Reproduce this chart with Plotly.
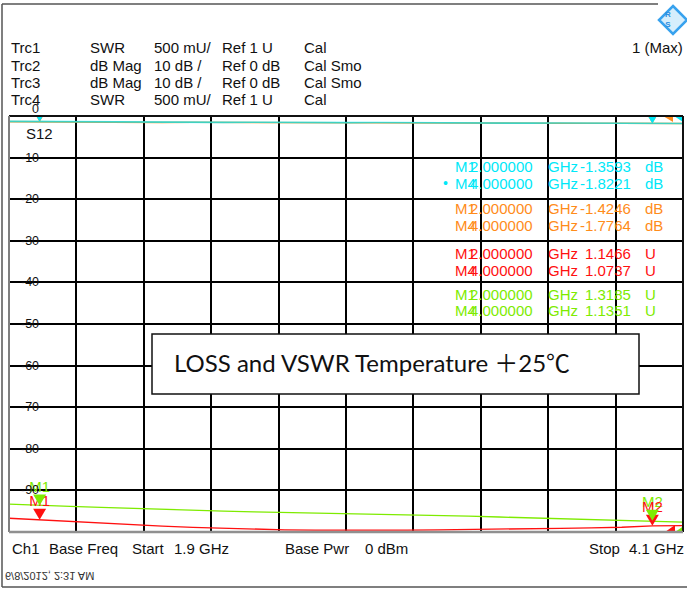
import plotly.graph_objects as go

# ---------------- data ----------------
freq_ghz = [1.9, 2.0, 2.1, 2.2, 2.3, 2.4, 2.5, 2.6, 2.7, 2.8, 2.9, 3.0,
            3.1, 3.2, 3.3, 3.4, 3.5, 3.6, 3.7, 3.8, 3.9, 4.0, 4.1]

# Trc2 / Trc3 : dB Mag (S12 loss)
trc_cyan_db = [-1.30, -1.3593, -1.42, -1.40, -1.44, -1.50, -1.47, -1.53, -1.50, -1.57, -1.55, -1.60,
               -1.58, -1.64, -1.62, -1.68, -1.66, -1.72, -1.70, -1.76, -1.75, -1.8221, -1.80]
trc_orange_db = [-1.36, -1.4246, -1.46, -1.45, -1.49, -1.53, -1.51, -1.56, -1.55, -1.60, -1.58, -1.63,
                 -1.62, -1.66, -1.65, -1.69, -1.68, -1.73, -1.72, -1.76, -1.76, -1.7764, -1.79]

# Trc1 / Trc4 : SWR
trc_red_swr = [1.165, 1.1466, 1.122, 1.102, 1.085, 1.070, 1.056, 1.044, 1.034, 1.026, 1.022, 1.020,
               1.021, 1.023, 1.026, 1.029, 1.033, 1.038, 1.044, 1.050, 1.057, 1.0737, 1.076]
trc_green_swr = [1.335, 1.3185, 1.308, 1.295, 1.282, 1.272, 1.262, 1.252, 1.243, 1.236, 1.229, 1.224,
                 1.218, 1.210, 1.200, 1.190, 1.180, 1.170, 1.160, 1.150, 1.142, 1.1351, 1.118]

marker_freq = [2.0, 4.0]
marker_names = ["M1", "M2"]
m_cyan = [-1.3593, -1.8221]
m_orange = [-1.4246, -1.7764]
m_red = [1.1466, 1.0737]
m_green = [1.3185, 1.1351]

header_rows = [
    ["Trc1", "SWR", "500 mU/", "Ref 1 U", "Cal"],
    ["Trc2", "dB Mag", "10 dB /", "Ref 0 dB", "Cal Smo"],
    ["Trc3", "dB Mag", "10 dB /", "Ref 0 dB", "Cal Smo"],
    ["Trc4", "SWR", "500 mU/", "Ref 1 U", "Cal"],
]
y_tick_vals = [0, -10, -20, -30, -40, -50, -60, -70, -80, -90]
y_tick_text = ["0", "-10", "-20", "-30", "-40", "-50", "-60", "-70", "-80", "-90"]

readout_rows = [
    ("M1", "2.000000", "GHz", "-1.3593", "dB", "cyan"),
    ("M4", "4.000000", "GHz", "-1.8221", "dB", "cyan"),
    ("M1", "2.000000", "GHz", "-1.4246", "dB", "orange"),
    ("M4", "4.000000", "GHz", "-1.7764", "dB", "orange"),
    ("M1", "2.000000", "GHz", "1.1466", "U", "red"),
    ("M4", "4.000000", "GHz", "1.0737", "U", "red"),
    ("M1", "2.000000", "GHz", "1.3185", "U", "green"),
    ("M4", "4.000000", "GHz", "1.1351", "U", "green"),
]

title_text = "LOSS and VSWR Temperature ＋25℃"
date_text = "6/8/2012, 2:31 AM"

# ---------------- styles ----------------
C = {"cyan": "#00E8F8", "orange": "#FF8C1A", "red": "#FF1010", "green": "#7EEB00"}
FONT = "Liberation Sans, Arial, sans-serif"
W, H = 687, 589
L, R, T, B = 9, 683, 116, 532


def px(x):
    return (x - L) / (R - L)


def py(y):
    return (B - y) / (B - T)


fig = go.Figure()
fig.add_trace(go.Scatter(x=freq_ghz, y=trc_orange_db, mode="lines",
                         line=dict(color=C["orange"], width=1.6), hoverinfo="skip"))
fig.add_trace(go.Scatter(x=freq_ghz, y=trc_cyan_db, mode="lines", opacity=0.75,
                         line=dict(color=C["cyan"], width=1.6), hoverinfo="skip"))
fig.add_trace(go.Scatter(x=freq_ghz, y=trc_red_swr, mode="lines", yaxis="y2",
                         line=dict(color=C["red"], width=1.3), hoverinfo="skip"))
fig.add_trace(go.Scatter(x=freq_ghz, y=trc_green_swr, mode="lines", yaxis="y2",
                         line=dict(color=C["green"], width=1.3), hoverinfo="skip"))

# marker labels (drawn as trace text so the marker triangles can sit above them)
for series, col in [(m_green, "green"), (m_red, "red")]:
    fig.add_trace(go.Scatter(x=marker_freq, y=series, yaxis="y2", mode="markers+text",
                             text=marker_names, textposition="top center",
                             marker=dict(size=14, color="rgba(0,0,0,0)"),
                             textfont=dict(family=FONT, size=15, color=C[col]),
                             cliponaxis=False, hoverinfo="skip"))

shapes = []
annotations = []

# marker triangles (tip at data point)
tri = "M-6.5,11 L6.5,11 L0,0 Z"
for series, col, yref in [(m_orange, "orange", "y"), (m_cyan, "cyan", "y"),
                          (m_red, "red", "y2"), (m_green, "green", "y2")]:
    for f, v in zip(marker_freq, series):
        shapes.append(dict(type="path", xref="x", yref=yref, xsizemode="pixel", ysizemode="pixel",
                           xanchor=f, yanchor=v, path=tri, fillcolor=C[col],
                           line=dict(width=0), layer="above"))

# reference-level indicators at the right edge
for dx0, dx1, col in [(-20, -10, "orange"), (-9, 0, "cyan")]:
    shapes.append(dict(type="path", xref="x", yref="y", xsizemode="pixel", ysizemode="pixel",
                       xanchor=freq_ghz[-1], yanchor=0,
                       path=f"M{dx0},0 L{dx1},0 L{dx1},-6 Z", fillcolor=C[col],
                       line=dict(width=0), layer="above"))
for dx0, dx1, col in [(-18, -8, "red"), (-8, 2, "green")]:
    shapes.append(dict(type="path", xref="x", yref="y2", xsizemode="pixel", ysizemode="pixel",
                       xanchor=freq_ghz[-1], yanchor=1,
                       path=f"M{dx0},0 L{dx1},0 L{dx1},7 Z", fillcolor=C[col],
                       line=dict(width=0), layer="above"))

# plot border
shapes += [
    dict(type="line", xref="paper", yref="paper", x0=0, x1=1, y0=1, y1=1, line=dict(color="#111", width=2)),
    dict(type="line", xref="paper", yref="paper", x0=1, x1=1, y0=0, y1=1, line=dict(color="#111", width=2)),
    dict(type="line", xref="paper", yref="paper", x0=0, x1=0, y0=0, y1=1, line=dict(color="#808080", width=2)),
    dict(type="line", xref="paper", yref="paper", x0=0, x1=1, y0=0, y1=0, line=dict(color="#909090", width=2.5)),
]
# outer frame
shapes += [
    dict(type="line", xref="paper", yref="paper", x0=px(2), x1=px(2), y0=py(587), y1=py(4), line=dict(color="#555", width=1.5)),
    dict(type="line", xref="paper", yref="paper", x0=px(2), x1=px(658), y0=py(4), y1=py(4), line=dict(color="#555", width=1.5)),
    dict(type="line", xref="paper", yref="paper", x0=px(2), x1=px(687), y0=py(587), y1=py(587), line=dict(color="#555", width=1.5)),
]
# title box
shapes.append(dict(type="rect", xref="paper", yref="paper", x0=px(152), x1=px(639), y0=py(394), y1=py(334),
                   fillcolor="white", line=dict(color="#111", width=1.5), layer="above"))
# logo diamond
shapes.append(dict(type="path", xref="paper", yref="paper",
                   path=f"M{px(673)},{py(6)} L{px(687)},{py(20)} L{px(673)},{py(34)} L{px(659)},{py(20)} Z",
                   fillcolor="#D6EEFC", line=dict(color="#38A2EE", width=2.5)))

annotations.append(dict(x=px(673), y=py(20), xref="paper", yref="paper", text="<b>R</b><br><b>S</b>", showarrow=False,
                        yanchor="middle", font=dict(family=FONT, size=8, color="#2E8FE0")))

# header text
col_x = [9, 88, 152, 220, 302]
row_y = [48, 65, 82, 99]
for r, row in enumerate(header_rows):
    for c, txt in enumerate(row):
        annotations.append(dict(x=px(col_x[c]), y=py(row_y[r]), xref="paper", yref="paper", text=txt,
                                xanchor="left", yanchor="middle", showarrow=False,
                                font=dict(family=FONT, size=15, color="#111")))
annotations.append(dict(x=px(685), y=py(47), xref="paper", yref="paper", text="1 (Max)",
                        xanchor="right", yanchor="middle", showarrow=False,
                        font=dict(family=FONT, size=15, color="#111")))
annotations.append(dict(x=px(24), y=py(133), xref="paper", yref="paper", text="S12",
                        xanchor="left", yanchor="middle", showarrow=False,
                        font=dict(family=FONT, size=15, color="#111")))

# y tick labels
for v, t in zip(y_tick_vals, y_tick_text):
    annotations.append(dict(x=px(41), y=v, xref="paper", yref="y", text=t, xanchor="right",
                            yanchor="middle", showarrow=False, yshift=7 if v == 0 else 0,
                            font=dict(family=FONT, size=12.5, color="#111")))

# marker readout block
row_ys = [166, 183, 208, 225, 253, 270, 294, 310]
for (m, f, u1, val, u2, col), yy in zip(readout_rows, row_ys):
    fnt = dict(family=FONT, size=15, color=C[col])
    common = dict(y=py(yy), xref="paper", yref="paper", yanchor="middle", showarrow=False, font=fnt)
    annotations += [
        dict(x=px(453), text=m, xanchor="left", **common),
        dict(x=px(468), text=f, xanchor="left", **common),
        dict(x=px(546), text=u1, xanchor="left", **common),
        dict(x=px(633), text=val, xanchor="right", **common),
        dict(x=px(643), text=u2, xanchor="left", **common),
    ]
annotations.append(dict(x=px(441), y=py(183), xref="paper", yref="paper", text="•", xanchor="left",
                        yanchor="middle", showarrow=False, font=dict(family=FONT, size=14, color=C["cyan"])))

# title
annotations.append(dict(x=px(172), y=py(362), xref="paper", yref="paper", text=title_text,
                        xanchor="left", yanchor="middle", showarrow=False,
                        font=dict(family="Lato, Noto Sans CJK SC, sans-serif", size=24, color="#111")))

# footer
footer = [("Ch1", 10, "left"), ("Base Freq", 47, "left"), ("Start", 130, "left"), ("1.9 GHz", 172, "left"),
          ("Base Pwr", 283, "left"), ("0 dBm", 363, "left"), ("Stop", 587, "left"), ("4.1 GHz", 686, "right")]
for t, x, a in footer:
    annotations.append(dict(x=px(x), y=py(548), xref="paper", yref="paper", text=t, xanchor=a,
                            yanchor="middle", showarrow=False, font=dict(family=FONT, size=15, color="#111")))
annotations.append(dict(x=px(3), y=py(576), xref="paper", yref="paper", text=date_text, xanchor="left",
                        yanchor="middle", showarrow=False, font=dict(family=FONT, size=11, color="#333")))

fig.update_layout(
    width=W, height=H, margin=dict(l=L, r=W - R, t=T, b=H - B),
    paper_bgcolor="white", plot_bgcolor="white", showlegend=False,
    xaxis=dict(range=[1.9, 4.1], tick0=1.9, dtick=0.22, showgrid=True, gridcolor="#000", gridwidth=2,
               showticklabels=False, ticks="", zeroline=False, showline=False),
    yaxis=dict(range=[-100, 0], dtick=10, showgrid=True, gridcolor="#000", gridwidth=2,
               showticklabels=False, ticks="", zeroline=False, showline=False),
    yaxis2=dict(range=[1, 6], overlaying="y", showgrid=False, showticklabels=False, zeroline=False,
                showline=False, ticks=""),
    shapes=shapes, annotations=annotations,
)

post = """
document.documentElement.style.margin = '0';
document.body.style.margin = '0';
document.body.style.overflow = 'hidden';
var ts = document.querySelectorAll('text.annotation-text');
ts.forEach(function(t){ if (t.textContent.indexOf('2012') >= 0) {
  t.style.transformBox = 'fill-box'; t.style.transformOrigin = '50% 50%'; t.style.transform = 'scaleY(-1)'; }});
"""
fig.write_html("out.html", post_script=post, config={"displayModeBar": False})
